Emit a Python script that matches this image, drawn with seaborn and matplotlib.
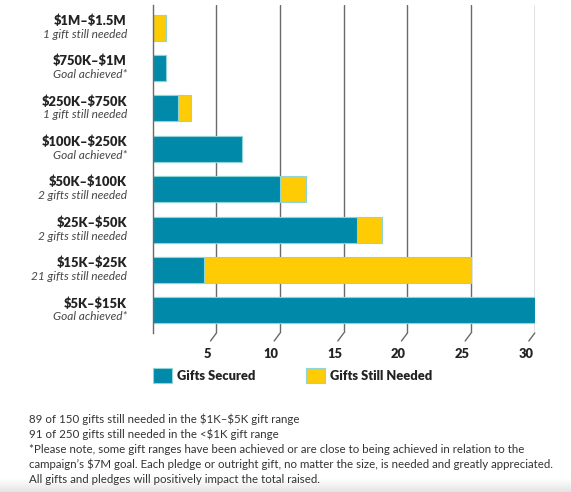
import numpy as np
import pandas as pd
import matplotlib
matplotlib.use("Agg")
import matplotlib.pyplot as plt
import matplotlib.transforms as mtransforms
from matplotlib.patches import Patch
import seaborn as sns

# ---- data ----
categories = ["$1M–$1.5M", "$750K–$1M", "$250K–$750K", "$100K–$250K",
              "$50K–$100K", "$25K–$50K", "$15K–$25K", "$5K–$15K"]
notes = ["1 gift still needed", "Goal achieved*", "1 gift still needed", "Goal achieved*",
         "2 gifts still needed", "2 gifts still needed", "21 gifts still needed", "Goal achieved*"]
secured = [0, 1, 2, 7, 10, 16, 4, 30]
needed = [1, 0, 1, 0, 2, 2, 21, 0]
xticks = [5, 10, 15, 20, 25, 30]
legend_labels = ["Gifts Secured", "Gifts Still Needed"]
footnotes = [
    "89 of 150 gifts still needed in the $1K–$5K gift range",
    "91 of 250 gifts still needed in the <$1K gift range",
    "*Please note, some gift ranges have been achieved or are close to being achieved in relation to the",
    "campaign’s $7M goal. Each pledge or outright gift, no matter the size, is needed and greatly appreciated.",
    "All gifts and pledges will positively impact the total raised.",
]

TEAL = "#0089a9"
YELLOW = "#ffcb05"
EDGE = "#8fd5d6"
GRID = "#6a6a6a"
DARK = "#232323"
GREY = "#454545"

df = pd.DataFrame({"range": categories, "secured": secured,
                   "total": [s + n for s, n in zip(secured, needed)]})

sns.set_theme(style="white")
plt.rcParams["font.family"] = ["Lato", "DejaVu Sans"]
plt.rcParams["text.parse_math"] = False

W, H = 571, 492
fig = plt.figure(figsize=(W / 100, H / 100), dpi=100)
fig.patch.set_facecolor("white")
renderer = fig.canvas.get_renderer()

HEAVY = "heavy"


def fit_size(text, target_px, **kw):
    t = fig.text(0, 0, text, fontsize=10, **kw)
    w = t.get_window_extent(renderer).width
    t.remove()
    return 10 * target_px / w


# axes placement (pixels)
x0, x1 = 152.8, 534.8
y_top, y_bot = 5, 333
ax = fig.add_axes([x0 / W, 1 - y_bot / H, (x1 - x0) / W, (y_bot - y_top) / H])
ax.set_facecolor("none")

sns.barplot(data=df, x="total", y="range", orient="h", color=YELLOW, saturation=1,
            width=0.64, edgecolor=EDGE, linewidth=0.8, ax=ax, zorder=2)
sns.barplot(data=df, x="secured", y="range", orient="h", color=TEAL, saturation=1,
            width=0.64, edgecolor=EDGE, linewidth=0.8, ax=ax, zorder=3)

n = len(categories)
ax.set_ylim(n - 1 + 0.56, -0.56)
ax.set_xlim(0, 30.0)
ax.set_xlabel("")
ax.set_ylabel("")

for s in ["top", "right", "bottom"]:
    ax.spines[s].set_visible(False)
ax.spines["left"].set_color(GRID)
ax.spines["left"].set_linewidth(1.0)
ax.spines["left"].set_zorder(5)

# grid lines with hooked ends
for t in xticks:
    ax.axvline(t, 0, 1, color=GRID, lw=1.0, zorder=1)
    ax.annotate("", xy=(t, 0), xycoords=("data", "axes fraction"),
                xytext=(-6, -8), textcoords="offset pixels",
                arrowprops=dict(arrowstyle="-", color=GRID, lw=1.0,
                                shrinkA=0, shrinkB=0), annotation_clip=False)

# x tick labels
tick_fs = fit_size("30", 15, fontweight=HEAVY)
ax.set_xticks(xticks)
ax.set_xticklabels([str(t) for t in xticks], fontsize=tick_fs, fontweight=HEAVY, color=DARK)
ax.tick_params(axis="x", length=0, pad=11)
off = mtransforms.ScaledTranslation(-9 / 100, 0, fig.dpi_scale_trans)
for lbl in ax.get_xticklabels():
    lbl.set_transform(lbl.get_transform() + off)

# y labels (two lines each)
ax.set_yticks(range(n))
ax.set_yticklabels([])
ax.tick_params(axis="y", length=0)
cat_fs = fit_size("$250K–$750K", 85, fontweight=HEAVY)
note_fs = fit_size("21 gifts still needed", 96, fontstyle="italic")
ytrans = ax.get_yaxis_transform()
for i, (c, nt) in enumerate(zip(categories, notes)):
    tr1 = mtransforms.offset_copy(ytrans, fig=fig, x=-26, y=7, units="dots")
    tr2 = mtransforms.offset_copy(ytrans, fig=fig, x=-26, y=-6.5, units="dots")
    ax.text(0, i, c, transform=tr1, ha="right", va="center", fontsize=cat_fs,
            fontweight=HEAVY, color=DARK)
    ax.text(0, i, nt, transform=tr2, ha="right", va="center", fontsize=note_fs,
            fontstyle="italic", color=GREY)

# legend
leg_fs = fit_size("Gifts Still Needed", 102, fontweight=HEAVY)
leg_px = leg_fs * 100 / 72
handles = [Patch(facecolor=TEAL, edgecolor=EDGE, linewidth=0.8),
           Patch(facecolor=YELLOW, edgecolor=EDGE, linewidth=0.8)]
for h, lab, lx in zip(handles, legend_labels, [153, 306]):
    lg = fig.legend([h], [lab], loc="upper left", bbox_to_anchor=(lx / W, 1 - 368 / H),
                    bbox_transform=fig.transFigure, frameon=False, borderpad=0,
                    borderaxespad=0, handlelength=19 / leg_px, handleheight=19 / leg_px,
                    handletextpad=5 / leg_px,
                    prop=dict(weight=HEAVY, size=leg_fs))
    for txt in lg.get_texts():
        txt.set_color(DARK)

# footnotes
foot_fs = fit_size(footnotes[3], 527)
foot_y = [419, 434.5, 449.5, 464.5, 479.5]
for line, fy in zip(footnotes, foot_y):
    fig.text(29 / W, 1 - fy / H, line, fontsize=foot_fs, color="#333333",
             ha="left", va="center")

# bottom gray band
bg = fig.add_axes([0, 0, 1, 24 / H], zorder=-5)
grad = np.linspace(1.0, 0.0, 24)
vals = np.clip(grad / 0.55, 0, 1)
col = 1.0 - (1 - vals) * (1 - 0.90)
img = np.repeat(col[:, None], 10, axis=1)
bg.imshow(np.dstack([img, img, img]), aspect="auto", extent=[0, 1, 0, 1])
bg.axis("off")

fig.savefig("out.png", dpi=100, facecolor="white")
